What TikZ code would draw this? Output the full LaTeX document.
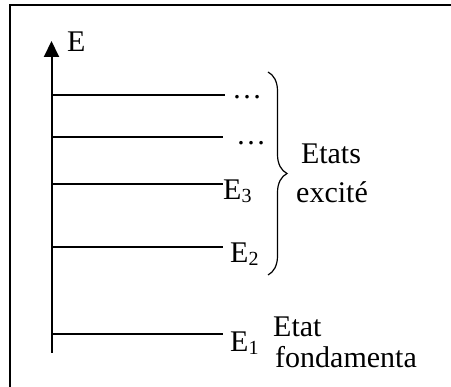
\documentclass[tikz,border=0pt]{standalone}
\usepackage{fontspec}
\setmainfont{Liberation Serif}
\usetikzlibrary{arrows.meta,decorations.pathreplacing}
\newcommand{\mysub}[1]{\raisebox{-0.1em}{\fontsize{20}{20}\selectfont #1}}
\tikzset{
  lvl/.style={line width=2pt},
  lab/.style={inner sep=0pt,anchor=base west,font=\fontsize{30}{32}\selectfont},
  frame/.style={line width=2pt},
}
\begin{document}
\begin{tikzpicture}[x=1pt,y=-1pt]
\useasboundingbox (0,0) rectangle (451,387);
% frame (top and left edges visible)
\coordinate (f0) at (9.5,392);
\coordinate (f1) at (9.5,5);
\coordinate (f2) at (456,5);
\draw[frame] (f0) -- (f1) -- (f2);
% axis
\coordinate (ax0) at (51.5,353);
\coordinate (ax1) at (51.5,41);
\draw[line width=2pt,-{Triangle[length=16pt,width=15pt]}] (ax0) -- (ax1);
\node[lab] (E) at (67,52) {E};
% levels
\coordinate (a5) at (51.5,95);
\coordinate (a4) at (51.5,137);
\coordinate (a3) at (51.5,184);
\coordinate (a2) at (51.5,247);
\coordinate (a1) at (51.5,334);
\coordinate (b5) at (225,95);
\coordinate (b4) at (223,137);
\node[lab] (E3) at (223,200) {E\mysub{3}};
\node[lab] (E2) at (230,263) {E\mysub{2}};
\node[lab] (E1) at (230,352) {E\mysub{1}};
\node[lab] (d5) at (232,99) {\dots};
\node[lab] (d4) at (236,145) {\dots};
\draw[lvl] (a5) -- (b5);
\draw[lvl] (a4) -- (b4);
\draw[lvl] (a3) -- (a3 -| E3.west);
\draw[lvl] (a2) -- (a2 -| 223,0);
\draw[lvl] (a1) -- (a1 -| 223,0);
% brace
\coordinate (br0) at (268,72);
\coordinate (br1) at (268,275);
\draw[line width=1.2pt,decoration={brace,amplitude=19pt},decorate] (br0) -- (br1);
\node[lab,anchor=base] (etats) at (331,164) {Etats};
\node[lab,anchor=base] (excite) at (332,203) {excité};
\node[lab] (etat) at (273,337) {Etat};
\node[lab] (fond) at (275,368) {fondamenta};
\end{tikzpicture}
\end{document}
